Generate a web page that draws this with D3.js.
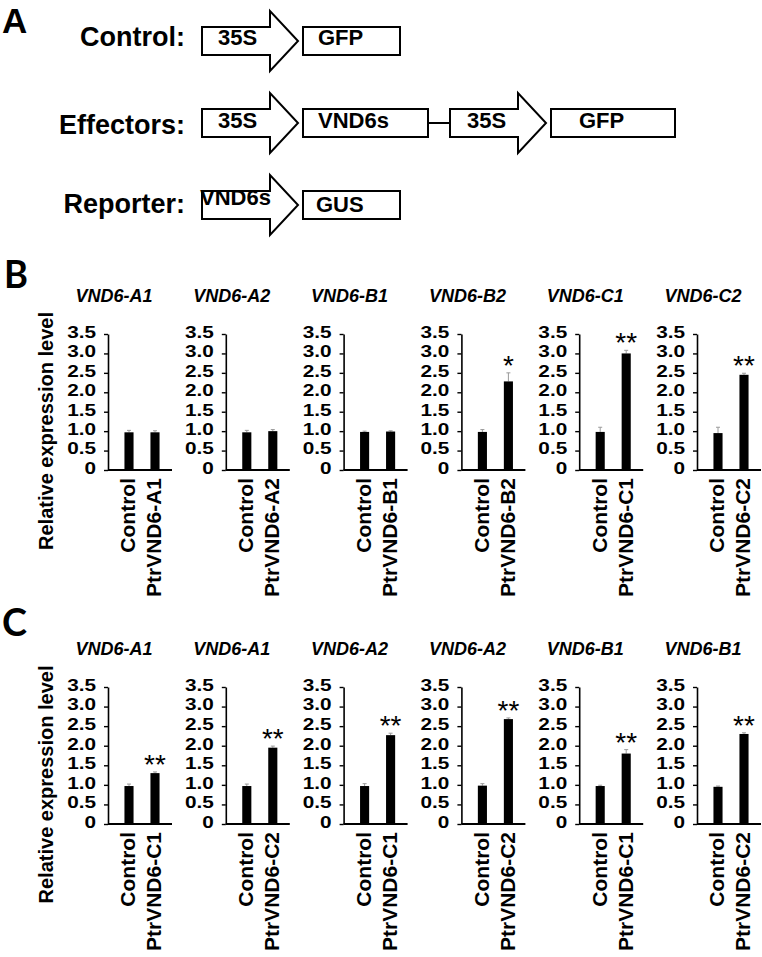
<!DOCTYPE html>
<html>
<head>
<meta charset="utf-8">
<script src="https://cdn.jsdelivr.net/npm/d3@7"></script>
<style>
  html, body { margin: 0; padding: 0; background: #fff; }
  svg { display: block; font-family: Arial, "Liberation Sans", sans-serif; }
</style>
</head>
<body>
<svg id="chart" width="762" height="957"></svg>
<script>
// ---------- DATA ----------
// Panel A constructs
const constructLabels = ["Control:", "Effectors:", "Reporter:"];
const constructParts = [
  [{ type: "arrow", text: "35S" }, { type: "box", text: "GFP" }],
  [{ type: "arrow", text: "35S" }, { type: "box", text: "VND6s" }, { type: "arrow", text: "35S" }, { type: "box", text: "GFP" }],
  [{ type: "arrow", text: "VND6s" }, { type: "box", text: "GUS" }]
];

// Y axis
const yTickValues = [0, 0.5, 1.0, 1.5, 2.0, 2.5, 3.0, 3.5];
const yTickLabels = ["0", "0.5", "1.0", "1.5", "2.0", "2.5", "3.0", "3.5"];
const yAxisTitle = "Relative expression level";

// Panel B
const bTitles = ["VND6-A1", "VND6-A2", "VND6-B1", "VND6-B2", "VND6-C1", "VND6-C2"];
const bCategories = [
  ["Control", "PtrVND6-A1"], ["Control", "PtrVND6-A2"], ["Control", "PtrVND6-B1"],
  ["Control", "PtrVND6-B2"], ["Control", "PtrVND6-C1"], ["Control", "PtrVND6-C2"]
];
const bValues = [[0.97, 0.97], [0.97, 1.0], [0.98, 0.99], [0.98, 2.28], [0.98, 3.0], [0.95, 2.45]];
const bErrors = [[0.05, 0.04], [0.05, 0.04], [0.02, 0.02], [0.06, 0.22], [0.12, 0.08], [0.15, 0.04]];
const bSig = [["", ""], ["", ""], ["", ""], ["", "*"], ["", "**"], ["", "**"]];

// Panel C
const cTitles = ["VND6-A1", "VND6-A1", "VND6-A2", "VND6-A2", "VND6-B1", "VND6-B1"];
const cCategories = [
  ["Control", "PtrVND6-C1"], ["Control", "PtrVND6-C2"], ["Control", "PtrVND6-C1"],
  ["Control", "PtrVND6-C2"], ["Control", "PtrVND6-C1"], ["Control", "PtrVND6-C2"]
];
const cValues = [[0.97, 1.3], [0.97, 1.95], [0.97, 2.27], [0.98, 2.68], [0.97, 1.8], [0.95, 2.3]];
const cErrors = [[0.05, 0.03], [0.05, 0.04], [0.06, 0.05], [0.05, 0.03], [0.02, 0.1], [0.02, 0.03]];
const cSig = [["", "**"], ["", "**"], ["", "**"], ["", "**"], ["", "**"], ["", "**"]];

// ---------- DRAWING ----------
const svg = d3.select("#chart");
const FONT = 'Arial, "Liberation Sans", sans-serif';

// ---- Panel letter labels ----
function panelLetter(txt, x, y, w) {
  svg.append("text").attr("x", x).attr("y", y)
    .attr("font-family", 'Lato, "Open Sans", sans-serif')
    .attr("font-weight", 700).attr("font-size", 38)
    .attr("textLength", w).attr("lengthAdjust", "spacingAndGlyphs")
    .text(txt);
}
svg.append("text").attr("x", 2).attr("y", 33)
  .attr("font-weight", 700).attr("font-size", 35).text("A");
panelLetter("B", 4, 288, 24);
panelLetter("C", 2, 636, 25);

// ---- Panel A ----
const rowCenters = [41, 123, 205];
const rowLabelBaselines = [46, 134, 213];
const partLayout = [
  [{ x: 202, tx: 218, ty: 45 }, { x: 303, w: 97, tx: 318, ty: 45 }],
  [{ x: 202, tx: 218, ty: 128 }, { x: 303, w: 125, tx: 318, ty: 128 }, { x: 450, tx: 467, ty: 128 }, { x: 551, w: 124, tx: 579, ty: 128 }],
  [{ x: 202, tx: 200, ty: 205 }, { x: 303, w: 97, tx: 316, ty: 212 }]
];
const gA = svg.append("g");
constructLabels.forEach((lab, i) => {
  gA.append("text").attr("x", 185).attr("y", rowLabelBaselines[i])
    .attr("text-anchor", "end").attr("font-weight", 700).attr("font-size", 27)
    .text(lab);
  const cy = rowCenters[i];
  constructParts[i].forEach((p, j) => {
    const L = partLayout[i][j];
    if (p.type === "arrow") {
      const x0 = L.x, xh = L.x + 68, tip = L.x + 96, bh = 14, hh = 30;
      const pts = [[x0, cy - bh], [xh, cy - bh], [xh, cy - hh], [tip, cy], [xh, cy + hh], [xh, cy + bh], [x0, cy + bh]];
      gA.append("path").attr("d", d3.line()(pts) + "Z")
        .attr("fill", "#fff").attr("stroke", "#000").attr("stroke-width", 2)
        .attr("stroke-linejoin", "miter");
    } else {
      gA.append("rect").attr("x", L.x).attr("y", cy - 14).attr("width", L.w).attr("height", 28)
        .attr("fill", "#fff").attr("stroke", "#000").attr("stroke-width", 2);
    }
    gA.append("text").attr("x", L.tx).attr("y", L.ty)
      .attr("font-weight", 700).attr("font-size", 22).text(p.text);
  });
});
// connector in effectors row
gA.append("line").attr("x1", 428).attr("x2", 450).attr("y1", 123).attr("y2", 123)
  .attr("stroke", "#000").attr("stroke-width", 2);

// ---- Bar panels ----
const axisXs = d3.range(6).map(i => 108 + i * 117.8);

function drawPanel(top, bottom, titles, cats, vals, errs, sigs) {
  const y = d3.scaleLinear().domain([0, 3.5]).range([bottom, top]);
  // y axis title
  svg.append("text")
    .attr("transform", `translate(53,${(top + bottom) / 2 + 29}) rotate(-90)`)
    .attr("text-anchor", "middle").attr("font-weight", 700).attr("font-size", 20)
    .text(yAxisTitle);

  titles.forEach((t, i) => {
    const ax = axisXs[i];
    const g = svg.append("g");
    const x = d3.scaleBand().domain(cats[i]).range([ax + 8, ax + 60])
      .paddingInner(0.65).paddingOuter(0.325);
    // title
    g.append("text").attr("x", ax + 6).attr("y", top - 32)
      .attr("text-anchor", "middle").attr("font-weight", 700).attr("font-style", "italic")
      .attr("font-size", 18).text(t);
    // y axis
    const yAxis = d3.axisLeft(y).tickValues(yTickValues)
      .tickFormat((d, k) => yTickLabels[k]).tickSize(4).tickSizeOuter(0).tickPadding(8);
    const ag = g.append("g").attr("transform", `translate(${ax},0)`).call(yAxis);
    ag.select(".domain").attr("stroke", "#000").attr("stroke-width", 1.6);
    ag.selectAll(".tick line").attr("stroke", "#000").attr("stroke-width", 1.4);
    ag.selectAll(".tick text").attr("font-family", FONT).attr("font-weight", 700)
      .attr("font-size", 17).attr("fill", "#000").attr("dy", "0.2em")
      .each(function () {
        const w = this.getComputedTextLength();
        d3.select(this).attr("textLength", w * 1.22).attr("lengthAdjust", "spacingAndGlyphs");
      });
    // x axis baseline
    g.append("line").attr("x1", ax).attr("x2", ax + 64).attr("y1", bottom).attr("y2", bottom)
      .attr("stroke", "#000").attr("stroke-width", 1.8);
    // bars
    const bw = x.bandwidth();
    cats[i].forEach((c, k) => {
      const v = vals[i][k], e = errs[i][k];
      const cx = x(c) + bw / 2;
      // error bar
      g.append("line").attr("x1", cx).attr("x2", cx).attr("y1", y(v)).attr("y2", y(v + e))
        .attr("stroke", "#9a9a9a").attr("stroke-width", 1);
      g.append("line").attr("x1", cx - 2).attr("x2", cx + 2).attr("y1", y(v + e)).attr("y2", y(v + e))
        .attr("stroke", "#9a9a9a").attr("stroke-width", 1);
      g.append("rect").attr("x", x(c)).attr("y", y(v)).attr("width", bw).attr("height", y(0) - y(v))
        .attr("fill", "#000");
      // significance
      if (sigs[i][k]) {
        g.append("text").attr("x", cx).attr("y", y(v + e) + 2)
          .attr("text-anchor", "middle").attr("font-size", 28).text(sigs[i][k]);
      }
      // category label
      g.append("text")
        .attr("transform", `translate(${cx},${bottom + 8}) rotate(-90)`)
        .attr("text-anchor", "end").attr("dy", "0.3em")
        .attr("font-weight", 700).attr("font-size", 21).text(c);
    });
  });
}

drawPanel(334, 470, bTitles, bCategories, bValues, bErrors, bSig);
drawPanel(687, 824, cTitles, cCategories, cValues, cErrors, cSig);
</script>
</body>
</html>
